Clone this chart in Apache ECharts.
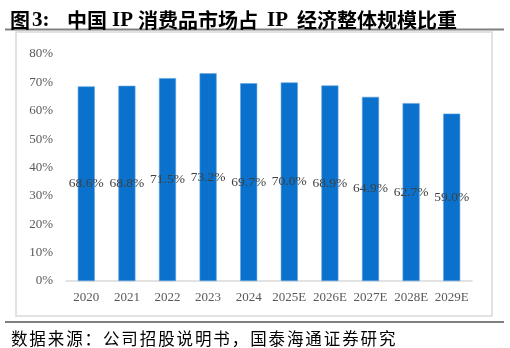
<!DOCTYPE html>
<html>
<head>
<meta charset="utf-8">
<script src="https://cdn.jsdelivr.net/npm/echarts@6/dist/echarts.min.js"></script>
<style>
html,body{margin:0;padding:0;background:#fff;}
#c{width:510px;height:348px;}
</style>
</head>
<body>
<div id="c"></div>
<script>
var categories = ['2020','2021','2022','2023','2024','2025E','2026E','2027E','2028E','2029E'];
var shareValues = [68.6, 68.8, 71.5, 73.2, 69.7, 70.0, 68.9, 64.9, 62.7, 59.0];
var yTicks = [0, 10, 20, 30, 40, 50, 60, 70, 80];
var titleParts = [['c','图'],['n','3:'],['c','中国'],['p','IP'],['c','消费品市场占'],['q','IP'],['c','经济整体规模比重']];
var sourceText = '数据来源：公司招股说明书，国泰海通证券研究';

var serif = '"Liberation Serif", "Times New Roman", serif';
var cjk = '"Noto Sans CJK SC", sans-serif';
function rich(parts){ return parts.map(function(p){ return '{' + p[0] + '|' + p[1] + '}'; }).join(''); }
var sourceRich = sourceText.split('').map(function(ch){ return '{s|' + ch + '}'; }).join('');

var chart = echarts.init(document.getElementById('c'), null, {renderer:'canvas'});
chart.setOption({
  animation: false,
  backgroundColor: '#fff',
  title: [{
    text: rich(titleParts),
    left: 5, top: 5,
    textStyle: {
      rich: {
        c: {fontFamily: cjk, fontWeight: 'bold', fontSize: 20, color: '#000'},
        n: {fontFamily: serif, fontWeight: 'bold', fontSize: 21, color: '#000', width: 35, align: 'left', padding: [0,0,0,2]},
        p: {fontFamily: serif, fontWeight: 'bold', fontSize: 21, color: '#000', width: 31, align: 'center'},
        q: {fontFamily: serif, fontWeight: 'bold', fontSize: 21, color: '#000', width: 39, align: 'center'}
      }
    }
  }, {
    text: sourceRich,
    left: 5, top: 325,
    textStyle: {
      fontWeight: 'normal',
      rich: {
        s: {fontFamily: cjk, fontWeight: 'normal', fontSize: 16.5, color: '#000', width: 18.4, align: 'center'}
      }
    }
  }],
  graphic: [
    {type:'line', shape:{x1:5,y1:29.5,x2:504,y2:29.5}, style:{stroke:'#808080', lineWidth:2}},
    {type:'rect', shape:{x:16,y:32,width:476,height:284}, style:{fill:'none', stroke:'#d9d9d9', lineWidth:1.5}},
    {type:'line', shape:{x1:5,y1:322,x2:504,y2:322}, style:{stroke:'#555', lineWidth:1.5}}
  ],
  grid: {left: 66, right: 38, top: 54, bottom: 67},
  xAxis: {
    type: 'category',
    data: categories,
    axisLine: {lineStyle: {color: '#d9d9d9', width: 1.5}},
    axisTick: {show: false},
    axisLabel: {interval: 0, margin: 10, fontFamily: serif, fontSize: 13, color: '#595959'}
  },
  yAxis: {
    type: 'value',
    min: yTicks[0], max: yTicks[yTicks.length-1], interval: 10,
    axisLine: {show: false},
    axisTick: {show: false},
    splitLine: {show: false},
    axisLabel: {margin: 13, fontFamily: serif, fontSize: 13, color: '#595959',
      formatter: function(v){ return v + '%'; }}
  },
  series: [{
    type: 'bar',
    data: shareValues,
    barWidth: '42%',
    itemStyle: {color: '#0A72CC', borderColor: '#5FA3E0', borderWidth: 0.6},
    label: {
      show: true, position: 'inside',
      fontFamily: serif, fontSize: 13.5, color: '#404040',
      formatter: function(p){ return p.value.toFixed(1) + '%'; }
    }
  }]
});
</script>
</body>
</html>
